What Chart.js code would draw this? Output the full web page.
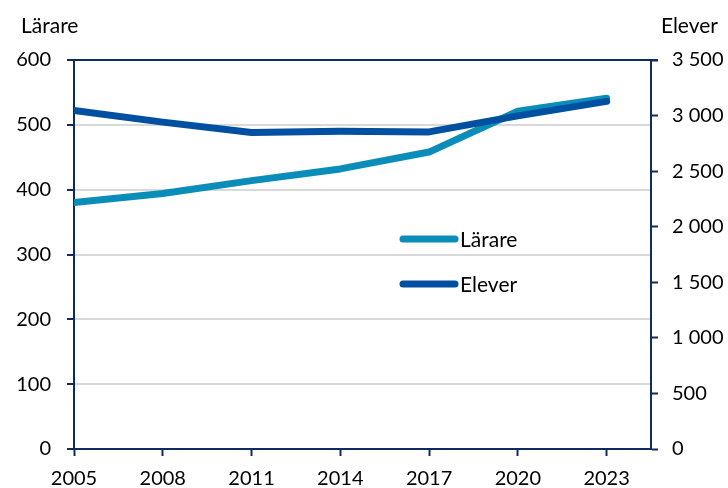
<!DOCTYPE html>
<html><head><meta charset="utf-8">
<script src="https://cdn.jsdelivr.net/npm/chart.js@4/dist/chart.umd.min.js"></script>
<style>html,body{margin:0;padding:0;background:#fff}#wrap{width:728px;height:488px}</style>
</head><body><div id="wrap"><canvas id="c" width="728" height="488"></canvas></div>
<script>
const years = [2005, 2008, 2011, 2014, 2017, 2020, 2023];
const lararePerc = [380, 394, 414, 432, 458, 521, 541];
const elever = [3045, 2941, 2847, 2858, 2853, 2997, 3128];
const leftTicks = [0, 100, 200, 300, 400, 500, 600];
const rightTicks = [0, 500, 1000, 1500, 2000, 2500, 3000, 3500];
const seriesNames = ['Lärare', 'Elever'];
const axisTitles = ['Lärare', 'Elever'];

const FONT = 'Lato, "Liberation Sans", sans-serif';
const NAVY = '#0F2D5C';
const fmt = v => String(v).replace(/\B(?=(\d{3})+(?!\d))/g, '\u00a0');

const decor = {
  id: 'decor',
  afterDraw(chart) {
    const {ctx, chartArea: a} = chart;
    ctx.save();
    // top border
    ctx.strokeStyle = NAVY; ctx.lineWidth = 2;
    ctx.beginPath(); ctx.moveTo(a.left - 7, a.top); ctx.lineTo(a.right + 7, a.top); ctx.stroke();
    // axis titles
    ctx.fillStyle = '#000'; ctx.font = '21px ' + FONT; ctx.textBaseline = 'alphabetic';
    ctx.textAlign = 'left'; ctx.fillText(axisTitles[0], 21, 33);
    ctx.textAlign = 'right'; ctx.fillText(axisTitles[1], 718, 33);
    // legend
    const lx = a.left + 325, ly = [239, 284];
    chart.data.datasets.forEach((ds, i) => {
      ctx.strokeStyle = ds.borderColor; ctx.lineWidth = 7; ctx.lineCap = 'round';
      ctx.beginPath(); ctx.moveTo(lx + 4, ly[i]); ctx.lineTo(lx + 56, ly[i]); ctx.stroke();
      ctx.fillStyle = '#000'; ctx.textAlign = 'left'; ctx.font = '21px ' + FONT;
      ctx.textBaseline = 'alphabetic';
      ctx.fillText(ds.label, lx + 61, ly[i] + 8);
    });
    ctx.restore();
  }
};

new Chart(document.getElementById('c'), {
  type: 'line',
  data: {
    datasets: [
      { label: seriesNames[0], data: years.map((y, i) => ({x: y, y: lararePerc[i]})), yAxisID: 'y',
        borderColor: '#0B8DBA', borderWidth: 7, pointRadius: 0, tension: 0, order: 2, borderCapStyle: 'round', borderJoinStyle: 'round' },
      { label: seriesNames[1], data: years.map((y, i) => ({x: y, y: elever[i]})), yAxisID: 'y2',
        borderColor: '#0050A1', borderWidth: 7, pointRadius: 0, tension: 0, order: 1, borderCapStyle: 'round', borderJoinStyle: 'round' }
    ]
  },
  options: {
    responsive: false, animation: false,
    layout: { padding: { top: 60, left: 0, right: 0, bottom: 0 } },
    plugins: { legend: { display: false }, tooltip: { enabled: false } },
    scales: {
      x: {
        type: 'linear', min: 2005, max: 2024.5,
        afterBuildTicks: s => { s.ticks = years.map(v => ({value: v})); },
        afterFit: s => { s.height = 39; },
        border: { color: NAVY, width: 2 },
        grid: { drawOnChartArea: false, drawTicks: true, tickLength: 7, tickColor: NAVY, tickWidth: 2 },
        ticks: { color: '#000', font: { family: FONT, size: 20 }, padding: 11, maxRotation: 0, callback: v => String(v) }
      },
      y: {
        position: 'left', min: 0, max: 600,
        afterBuildTicks: s => { s.ticks = leftTicks.map(v => ({value: v})); },
        afterFit: s => { s.width = 74; },
        border: { color: NAVY, width: 2 },
        grid: { color: '#D9D9D9', lineWidth: 2, drawTicks: true, tickLength: 7, tickColor: NAVY, tickWidth: 2 },
        ticks: { color: '#000', font: { family: FONT, size: 20 }, padding: 16, callback: v => fmt(v) }
      },
      y2: {
        position: 'right', min: 0, max: 3500,
        afterBuildTicks: s => { s.ticks = rightTicks.map(v => ({value: v})); },
        afterFit: s => { s.width = 77; },
        border: { color: NAVY, width: 2 },
        grid: { drawOnChartArea: false, drawTicks: true, tickLength: 7, tickColor: NAVY, tickWidth: 2 },
        ticks: { color: '#000', font: { family: FONT, size: 20 }, padding: 14, callback: v => fmt(v) }
      }
    }
  },
  plugins: [decor]
});
</script></body></html>
